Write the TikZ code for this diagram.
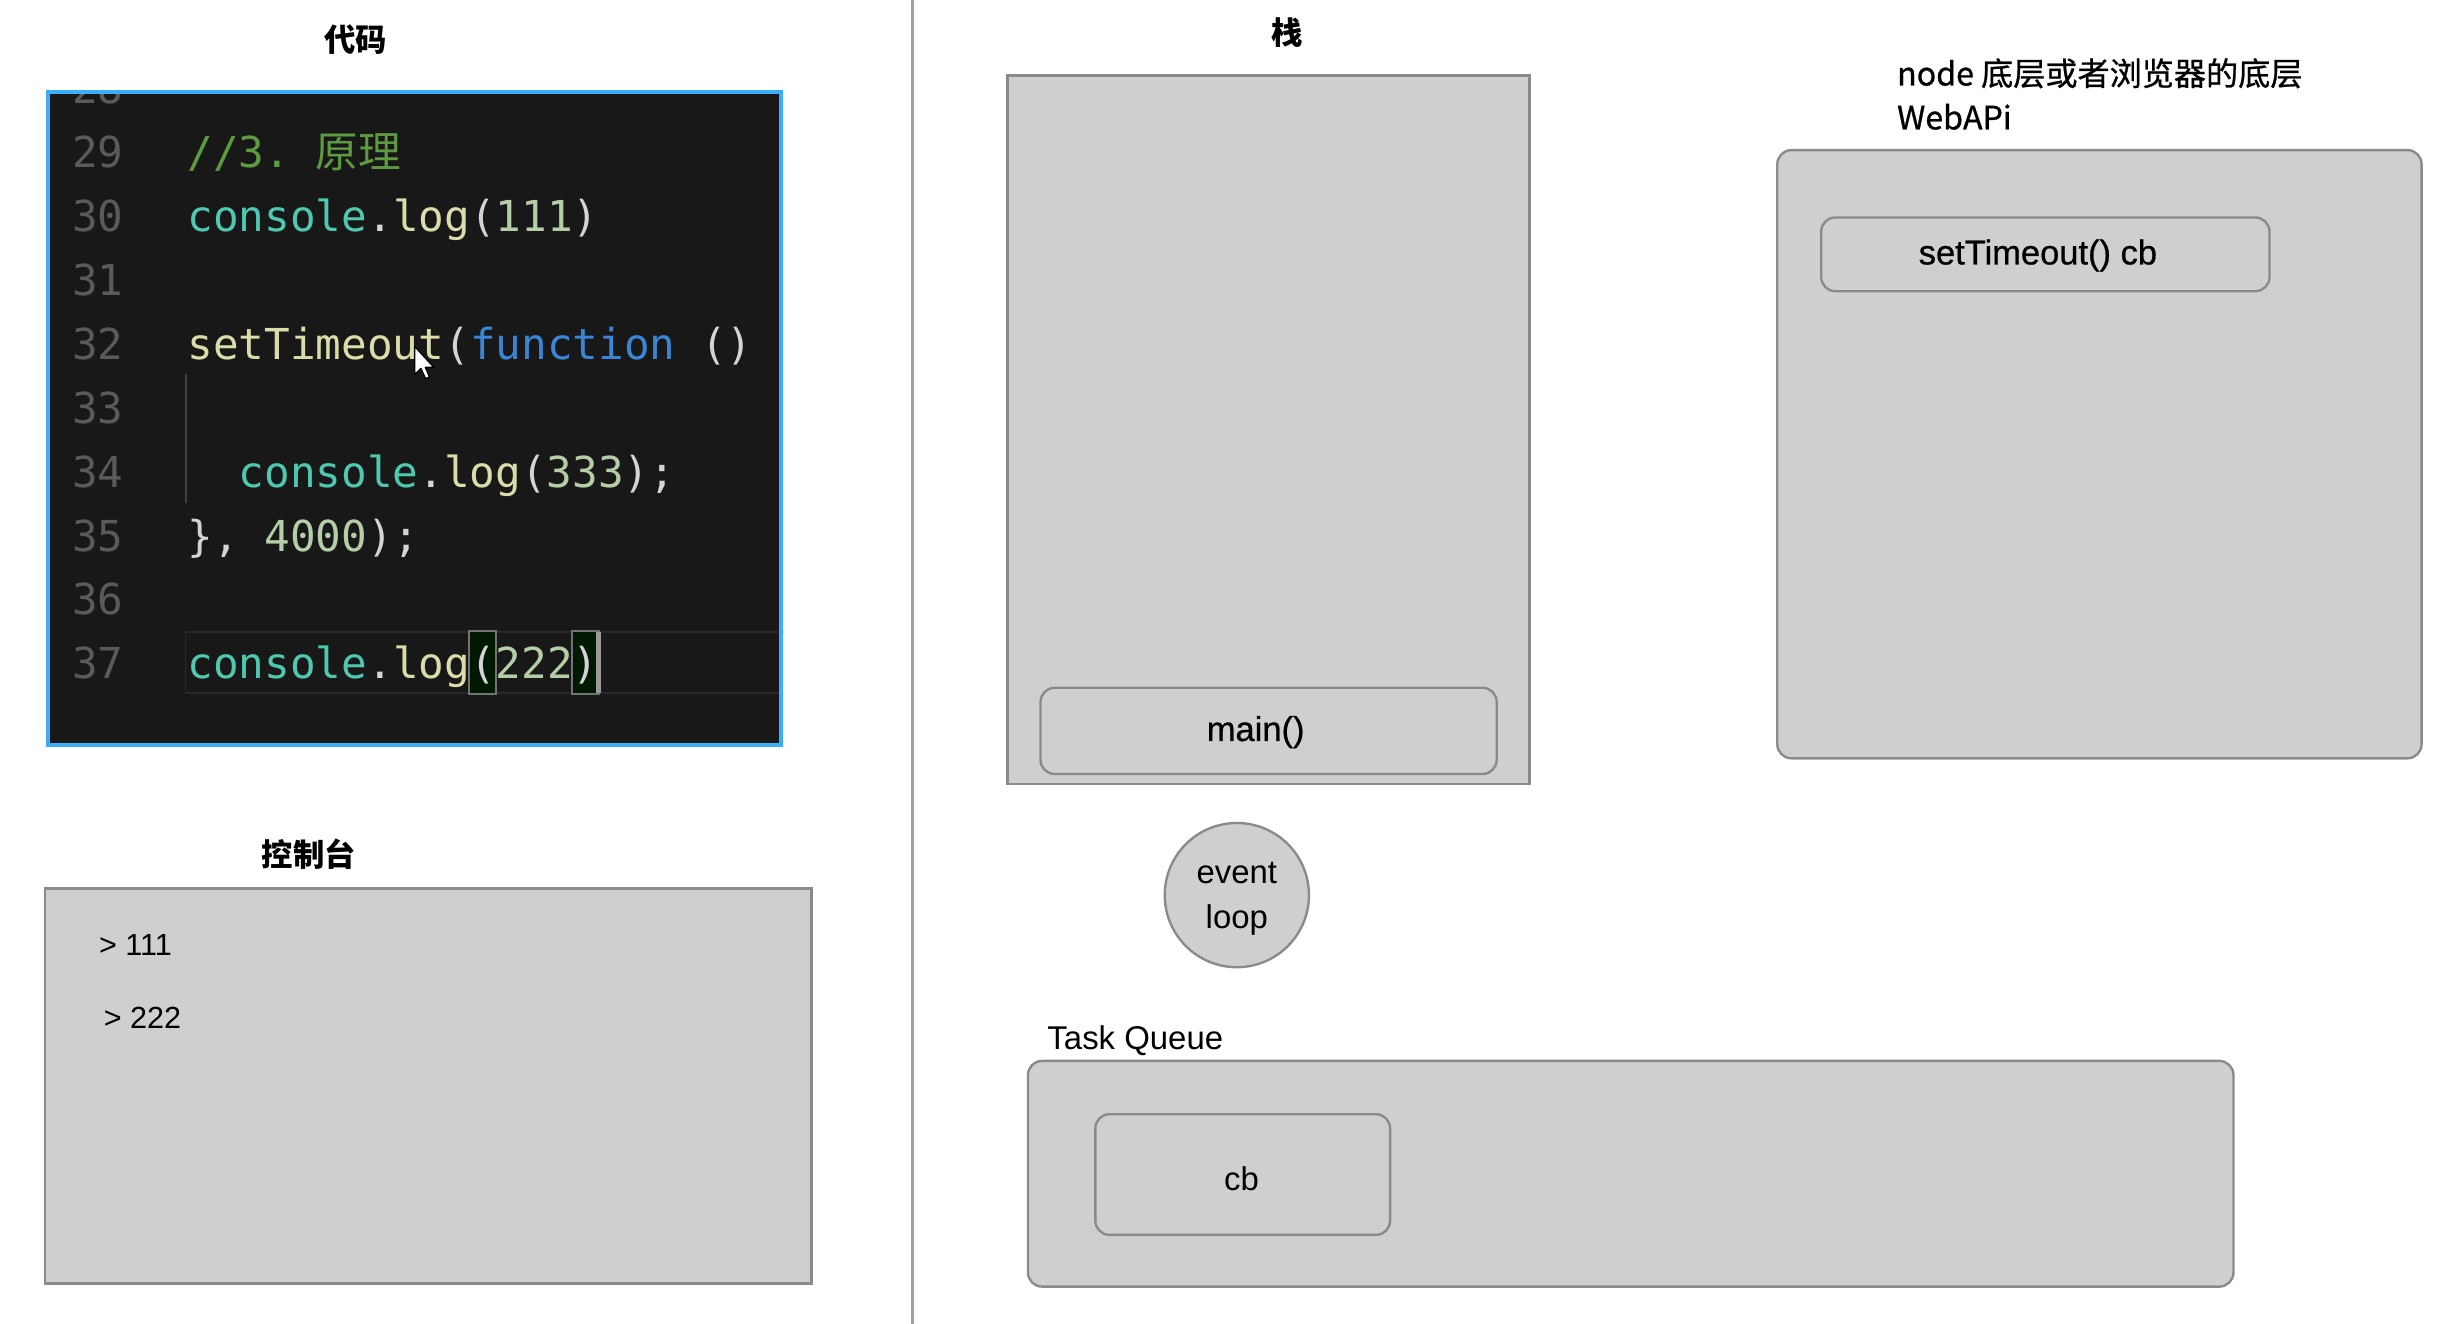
\documentclass[tikz,border=0pt]{standalone}
\usepackage{fontspec}
\setmainfont{Liberation Sans}
\setmonofont{DejaVu Sans Mono}
\newfontfamily\cjk{Noto Sans CJK SC}
\newfontfamily\cjkmid[FakeBold=0.8]{Noto Sans CJK SC}
\newfontfamily\sansmid[FakeBold=0.7]{Liberation Sans}
\definecolor{boxfill}{HTML}{CFCFCF}
\definecolor{boxline}{HTML}{8A8A8A}
\definecolor{codebg}{HTML}{181818}
\definecolor{codeborder}{HTML}{3AAEFA}
\definecolor{lnumgray}{HTML}{5A5A5A}
\definecolor{jscmt}{HTML}{5E9B40}
\definecolor{jsteal}{HTML}{4EC9B0}
\definecolor{jsfn}{HTML}{DCDCAA}
\definecolor{jsnum}{HTML}{B5CEA8}
\definecolor{jskey}{HTML}{3B85D6}
\definecolor{jspunct}{HTML}{D4D4D4}
\tikzstyle{panel}=[draw=boxline, fill=boxfill, line width=1.5pt, anchor=north west, inner sep=0pt,
    font=\sansmid\fontsize{22}{26}\selectfont]
\tikzstyle{slot}=[panel, rounded corners=9pt]
\tikzstyle{heading}=[font=\cjk\bfseries\fontsize{20}{24}\selectfont]
\tikzstyle{plain}=[anchor=west, inner sep=0pt, font=\fontsize{21}{28}\selectfont]
\tikzstyle{lnum}=[anchor=base east, inner sep=0pt, text=lnumgray, font=\ttfamily\fontsize{27.2}{30}\selectfont]
\tikzstyle{srcline}=[anchor=base west, inner sep=0pt, font=\ttfamily\fontsize{27.2}{30}\selectfont]
\newcommand{\panel}{\node[panel]}
\newcommand{\slot}{\node[slot]}
\newcommand{\ct}[1]{\textcolor{jsteal}{#1}}
\newcommand{\cy}[1]{\textcolor{jsfn}{#1}}
\newcommand{\cn}[1]{\textcolor{jsnum}{#1}}
\newcommand{\ck}[1]{\textcolor{jskey}{#1}}
\newcommand{\cp}[1]{\textcolor{jspunct}{#1}}
\begin{document}
\begin{tikzpicture}[x=1pt, y=-1pt]
\useasboundingbox (0,0) rectangle (1568,844.6);

\node[heading] (codetitle) at (227,25) {代码};
\node[anchor=north west, fill=codebg, minimum width=467pt, minimum height=416pt, inner sep=0pt] (editor) at (30.6,58.7) {};
\begin{scope}
\clip (editor.north west) rectangle (editor.south east);
\draw[color=black!84, line width=1pt] (118.3,403) rectangle (505,442);
\draw[fill=black!90!green, draw=black!55, line width=1.2pt] (299.3,402.5) rectangle (316.5,442.5);
\draw[fill=black!90!green, draw=black!55, line width=1.2pt] (364.8,402.5) rectangle (381.9,442.5);
\fill[black!40] (380.5,403) rectangle (383.5,442);
\draw[black!75, line width=1pt] (118.7,238.5) -- (118.7,321);
\node[lnum] (l28) at (79,65.9) {28};
\node[lnum] (l29) at (79,106.7) {29};
\node[lnum] (l30) at (79,147.5) {30};
\node[lnum] (l31) at (79,188.3) {31};
\node[lnum] (l32) at (79,229.1) {32};
\node[lnum] (l33) at (79,269.9) {33};
\node[lnum] (l34) at (79,310.7) {34};
\node[lnum] (l35) at (79,351.5) {35};
\node[lnum] (l36) at (79,392.3) {36};
\node[lnum] (l37) at (79,433.1) {37};
\node[srcline] (c29) at (119.5,106.7) {\textcolor{jscmt}{//3.\ {\cjk 原理}}};
\node[srcline] (c30) at (119.5,147.5) {\ct{console}\cp{.}\cy{log}\cp{(}\cn{111}\cp{)}};
\node[srcline] (c32) at (119.5,229.1) {\cy{setTimeout}\cp{(}\ck{function}\cp{\ ()}};
\node[srcline] (c34) at (152.2,310.7) {\ct{console}\cp{.}\cy{log}\cp{(}\cn{333}\cp{);}};
\node[srcline] (c35) at (119.5,351.5) {\cp{\},\ }\cn{4000}\cp{);}};
\node[srcline] (c37) at (119.5,433.1) {\ct{console}\cp{.}\cy{log}\cp{(}\cn{222}\cp{)}};
\draw[fill=white, line width=0.8pt, line join=round, shift={(264.5,221)}]
  (0,0) -- (0,18) -- (4,14) -- (7,20.5) -- (9.5,19.5) -- (6.8,13.3) -- (12.2,13.3) -- cycle;
\end{scope}
\draw[codeborder, line width=2.6pt] (editor.north west) rectangle (editor.south east);

\node[heading] (consoletitle) at (197,545) {控制台};
\panel[minimum width=489pt, minimum height=252pt] (console) at (28,566) {};
\node[plain, font=\fontsize{19.5}{22}\selectfont] (out1) at (63,603) {> 111};
\node[plain, font=\fontsize{19.5}{22}\selectfont] (out2) at (66,649) {> 222};

\draw[boxline!80, line width=1.5pt] (582,0) -- (582,845);

\node[heading] (stacktitle) at (821,21) {栈};
\panel[minimum width=333pt, minimum height=452pt] (stack) at (642,47.5) {};
\slot[minimum width=291pt, minimum height=55pt] (main) at (663,438) {};
\node[font=\sansmid\fontsize{22}{26}\selectfont, inner sep=0pt] (mainlabel) at (801,467) {main()};

\node[anchor=west, align=left, inner sep=0pt, font=\cjkmid\fontsize{20.5}{28}\selectfont] (apititle) at (1210,60)
  {node 底层或者浏览器的底层\\WebAPi};
\slot[minimum width=411pt, minimum height=388pt] (webapi) at (1133,95) {};
\slot[minimum width=286pt, minimum height=47pt] (timer) at (1161,138) {};
\node[font=\sansmid\fontsize{22}{26}\selectfont, inner sep=0pt] (timerlabel) at (1300,163) {setTimeout() cb};

\node[circle, draw=boxline, fill=boxfill, line width=1.5pt, minimum size=92pt, inner sep=0pt] (loop) at (789,571) {};
\node[align=center, inner sep=0pt, font=\fontsize{21}{28}\selectfont] (looplabel) at (789,573.5) {event\\[1pt]loop};

\node[plain] (queuetitle) at (668,664) {Task Queue};
\slot[minimum width=769pt, minimum height=144pt] (queue) at (655,676) {};
\slot[minimum width=188pt, minimum height=77pt] (cb) at (698,710) {};
\node[font=\fontsize{21}{24}\selectfont, inner sep=0pt] (cblabel) at (792,752) {cb};
\end{tikzpicture}
\end{document}
